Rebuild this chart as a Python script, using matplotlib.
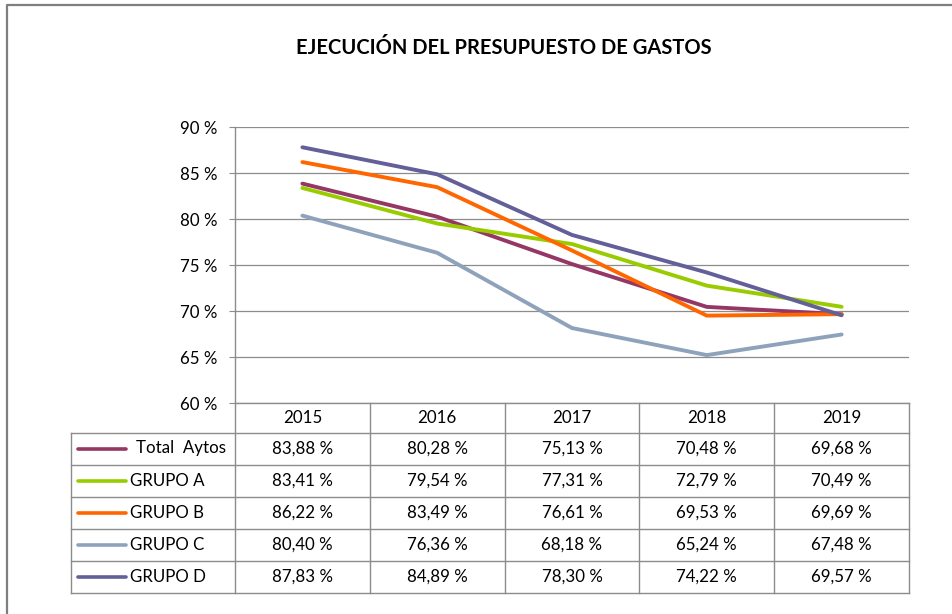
import matplotlib
matplotlib.use('Agg')
import matplotlib.pyplot as plt
from matplotlib.lines import Line2D

plt.rcParams['font.family'] = ['Lato', 'DejaVu Sans']

# DATA
years = ['2015', '2016', '2017', '2018', '2019']
series_names = ['Total  Aytos', 'GRUPO A', 'GRUPO B', 'GRUPO C', 'GRUPO D']
total_aytos = [83.88, 80.28, 75.13, 70.48, 69.68]
grupo_a = [83.41, 79.54, 77.31, 72.79, 70.49]
grupo_b = [86.22, 83.49, 76.61, 69.53, 69.69]
grupo_c = [80.40, 76.36, 68.18, 65.24, 67.48]
grupo_d = [87.83, 84.89, 78.30, 74.22, 69.57]
y_ticks = [60, 65, 70, 75, 80, 85, 90]
colors = ['#953765', '#99CC00', '#FF6600', '#8EA2BC', '#635F99']

series = [total_aytos, grupo_a, grupo_b, grupo_c, grupo_d]

W, H = 953, 614
fig = plt.figure(figsize=(W / 100, H / 100), dpi=100)
fs = 12.2

# plot area in pixels
left, right, top, bottom = 235, 909, 127.3, 403.3
ax = fig.add_axes([left / W, 1 - bottom / H, (right - left) / W, (bottom - top) / H])

x = list(range(len(years)))
for vals, c in zip(series, colors):
    ax.plot(x, vals, color=c, lw=2.8, solid_capstyle='round', zorder=3)

grid_col = '#8c8c8c'
ax.set_xlim(-0.5, len(years) - 0.5)
ax.set_ylim(60, 90)
ax.set_yticks(y_ticks)
ax.set_yticklabels([f'{v} %' for v in y_ticks], fontsize=fs)
ax.set_xticks([])
ax.tick_params(axis='y', length=4.5, color=grid_col, pad=8)
ax.yaxis.grid(True, color=grid_col, lw=0.9)
ax.set_axisbelow(True)
for s in ['top', 'right']:
    ax.spines[s].set_visible(False)
for s in ['left', 'bottom']:
    ax.spines[s].set_color(grid_col)
    ax.spines[s].set_linewidth(1)


def fline(xs, ys, **kw):
    fig.add_artist(Line2D([v / W for v in xs], [1 - v / H for v in ys],
                          transform=fig.transFigure, **kw))


# data table under the chart
col_w = (right - left) / len(years)
row_edges = [bottom, 432.5, 464.5, 496.5, 528.5, 560.5, 592.5]
leg_left = 71.5
for ye in row_edges[1:]:
    fline([leg_left, right], [ye, ye], color=grid_col, lw=1)
fline([leg_left, leg_left], [row_edges[1], row_edges[-1]], color=grid_col, lw=1)
for k in range(len(years) + 1):
    xe = left + k * col_w
    fline([xe, xe], [bottom, row_edges[-1]], color=grid_col, lw=1)

for k, yr in enumerate(years):
    cx = left + (k + 0.5) * col_w
    fig.text(cx / W, 1 - (row_edges[0] + row_edges[1]) / 2 / H, yr,
             ha='center', va='center', fontsize=fs)

for r, (name, vals, c) in enumerate(zip(series_names, series, colors)):
    cy = (row_edges[r + 1] + row_edges[r + 2]) / 2
    fline([78, 126], [cy, cy], color=c, lw=2.6, solid_capstyle='round')
    fig.text((136 if r == 0 else 130) / W, 1 - cy / H, name,
             ha='left', va='center', fontsize=fs)
    for k, v in enumerate(vals):
        cx = left + (k + 0.5) * col_w
        txt = f'{v:.2f}'.replace('.', ',') + ' %'
        fig.text(cx / W, 1 - cy / H, txt, ha='center', va='center', fontsize=fs)

# outer frame
fline([7, 7, W], [H, 4.5, 4.5], color='#7f7f7f', lw=1.6)

fig.text(504 / W, 1 - 48 / H, 'EJECUCIÓN DEL PRESUPUESTO DE GASTOS',
         ha='center', va='center', fontsize=14.5, fontweight='bold')

fig.savefig('out.png', dpi=100)
